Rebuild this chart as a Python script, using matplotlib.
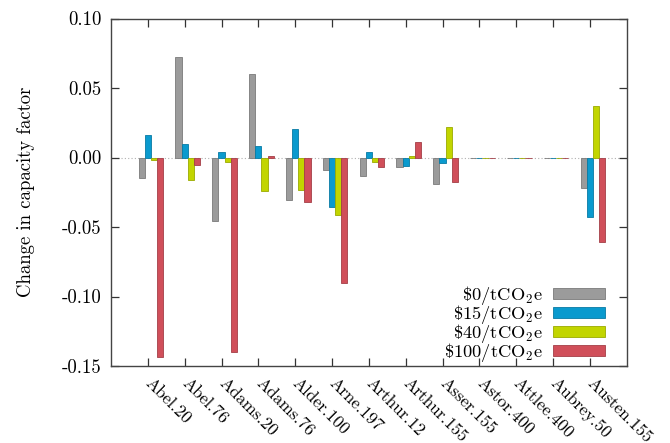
#!/usr/bin/env python3
"""
Grouped bar chart of capacity-factor change per generator under four carbon prices.
"""

import matplotlib

matplotlib.use("Agg")

import matplotlib.pyplot as plt
import matplotlib.transforms as mtransforms
import numpy as np

plt.rcParams["font.family"] = "cmr10"
plt.rcParams["mathtext.fontset"] = "cm"
plt.rcParams["axes.unicode_minus"] = False

GENERATORS = [
    "Abel.20", "Abel.76", "Adams.20", "Adams.76", "Alder.100", "Arne.197",
    "Arthur.12", "Arthur.155", "Asser.155", "Astor.400", "Attlee.400",
    "Aubrey.50", "Austen.155",
]
PRICE_LABELS = [
    r"$\$0/\mathrm{tCO}_2\mathrm{e}$",
    r"$\$15/\mathrm{tCO}_2\mathrm{e}$",
    r"$\$40/\mathrm{tCO}_2\mathrm{e}$",
    r"$\$100/\mathrm{tCO}_2\mathrm{e}$",
]
DELTA_0 = [-0.0148, 0.0724, -0.0458, 0.0600, -0.0304, -0.0088, -0.0134, -0.0069, -0.0189, 0.0, 0.0, -0.0003, -0.0222]
DELTA_15 = [0.0159, 0.0096, 0.0041, 0.0084, 0.0204, -0.0359, 0.0039, -0.0062, -0.0038, 0.0, 0.0, -0.0005, -0.0429]
DELTA_40 = [-0.0020, -0.0163, -0.0033, -0.0244, -0.0237, -0.0410, -0.0033, 0.0010, 0.0219, 0.0, 0.0, 0.0, 0.0368]
DELTA_100 = [-0.1438, -0.0052, -0.1400, 0.0010, -0.0320, -0.0901, -0.0067, 0.0113, -0.0179, 0.0, 0.0, -0.0005, -0.0609]
Y_TICKS = [-0.15, -0.10, -0.05, 0.00, 0.05, 0.10]

FACE_COLORS = ["#9b9b9b", "#0a9ace", "#c2d500", "#d04f5a"]
EDGE_COLORS = ["#7a7a7a", "#087aa4", "#9aaa00", "#a43e47"]


def main() -> None:
    fig = plt.figure(figsize=(6.7, 4.43), dpi=100)
    ax = fig.add_axes([0.1657, 0.1738, 0.7697, 0.7844])

    x = np.arange(len(GENERATORS))
    width = 1.0 / 6.0
    series = [DELTA_0, DELTA_15, DELTA_40, DELTA_100]

    ax.axhline(0.0, color="#b0b0b0", linewidth=0.8, linestyle=(0, (1, 2)), zorder=1)
    for j, (values, label) in enumerate(zip(series, PRICE_LABELS)):
        ax.bar(
            x + (j - 1) * width,
            values,
            width=width,
            color=FACE_COLORS[j],
            edgecolor=EDGE_COLORS[j],
            linewidth=0.6,
            label=label,
            zorder=2,
        )

    ax.set_xlim(-1, len(GENERATORS))
    ax.set_ylim(-0.15, 0.10)
    ax.set_yticks(Y_TICKS)
    ax.set_yticklabels([f"{v:.2f}" for v in Y_TICKS], fontsize=13.5)
    ax.set_xticks(x)
    ax.set_xticklabels(
        GENERATORS, rotation=-45, ha="left", va="center", rotation_mode="anchor", fontsize=12.5
    )
    # nudge the slanted labels a little to the right of their ticks
    shift = mtransforms.ScaledTranslation(0.03, 0.0, fig.dpi_scale_trans)
    for label in ax.get_xticklabels():
        label.set_transform(label.get_transform() + shift)
    ax.tick_params(axis="both", direction="in", length=6, width=0.9, color="#333333",
                   top=True, right=True, pad=7)
    ax.tick_params(axis="x", pad=10.5)
    for spine in ax.spines.values():
        spine.set_color("#444444")
        spine.set_linewidth(1.0)

    ax.set_ylabel("Change in capacity factor", fontsize=13.5, labelpad=19)

    ax.legend(
        loc="lower right",
        bbox_to_anchor=(0.972, -0.015),
        frameon=False,
        markerfirst=False,
        fontsize=13.3,
        handlelength=2.8,
        handleheight=0.5,
        handletextpad=0.55,
        labelspacing=-0.22,
        borderaxespad=0.0,
    )

    fig.savefig("out.png", dpi=100)
    plt.close(fig)


if __name__ == "__main__":
    main()
